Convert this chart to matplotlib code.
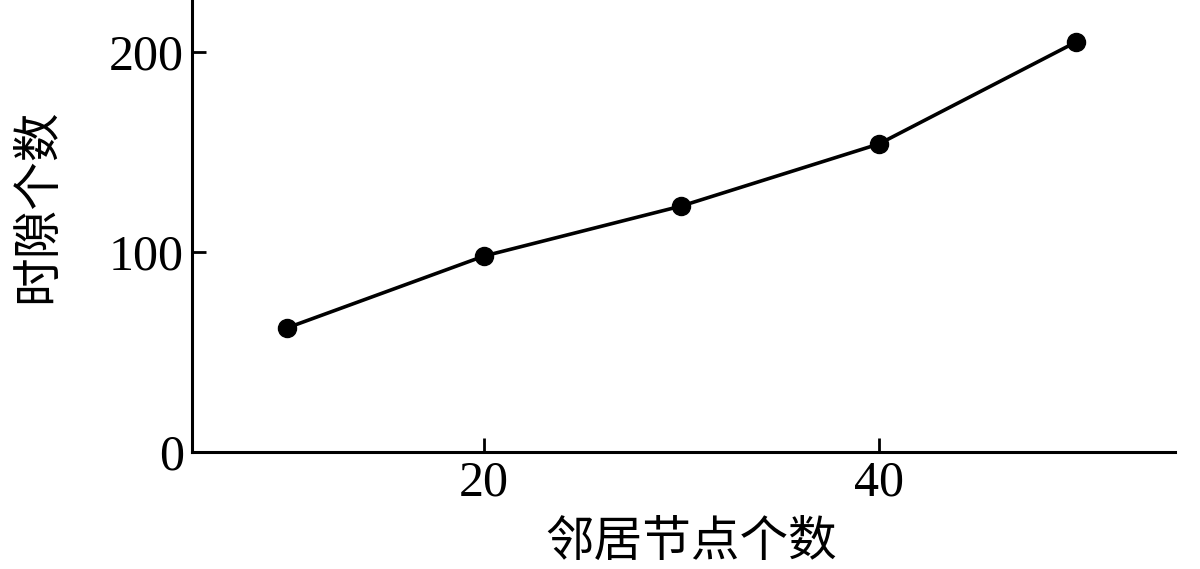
import matplotlib
matplotlib.use('Agg')
import matplotlib.pyplot as plt

# neighbour count vs slot count
neighbors = [10, 20, 30, 40, 50]
slots = [62, 98, 123, 154, 205]
x_ticks = [20, 40]
y_ticks = [0, 100, 200]

plt.rcParams['font.family'] = ['Liberation Serif', 'Noto Sans CJK SC']

fig = plt.figure(figsize=(12, 5.69), dpi=100)
ax = fig.add_axes([0.16, 0.2056, 0.819, 0.7944])

ax.plot(neighbors, slots, color='black', linewidth=2.6, marker='o', markersize=13)

ax.set_xlim(5.2, 55)
ax.set_ylim(0, 226)
ax.set_xticks(x_ticks)
ax.set_yticks(y_ticks)

for side in ['top', 'right']:
    ax.spines[side].set_visible(False)
for side in ['left', 'bottom']:
    ax.spines[side].set_linewidth(2.2)

ax.tick_params(direction='in', length=10, width=2, labelsize=36, pad=6)

ax.set_xlabel('邻居节点个数', fontsize=35, family=['Noto Sans CJK SC'])
ax.set_ylabel('时隙个数', fontsize=35, family=['Noto Sans CJK SC'])
ax.xaxis.set_label_coords(0.508, -0.145)
ax.yaxis.set_label_coords(-0.132, 0.545)

fig.savefig('out.png', dpi=100)
